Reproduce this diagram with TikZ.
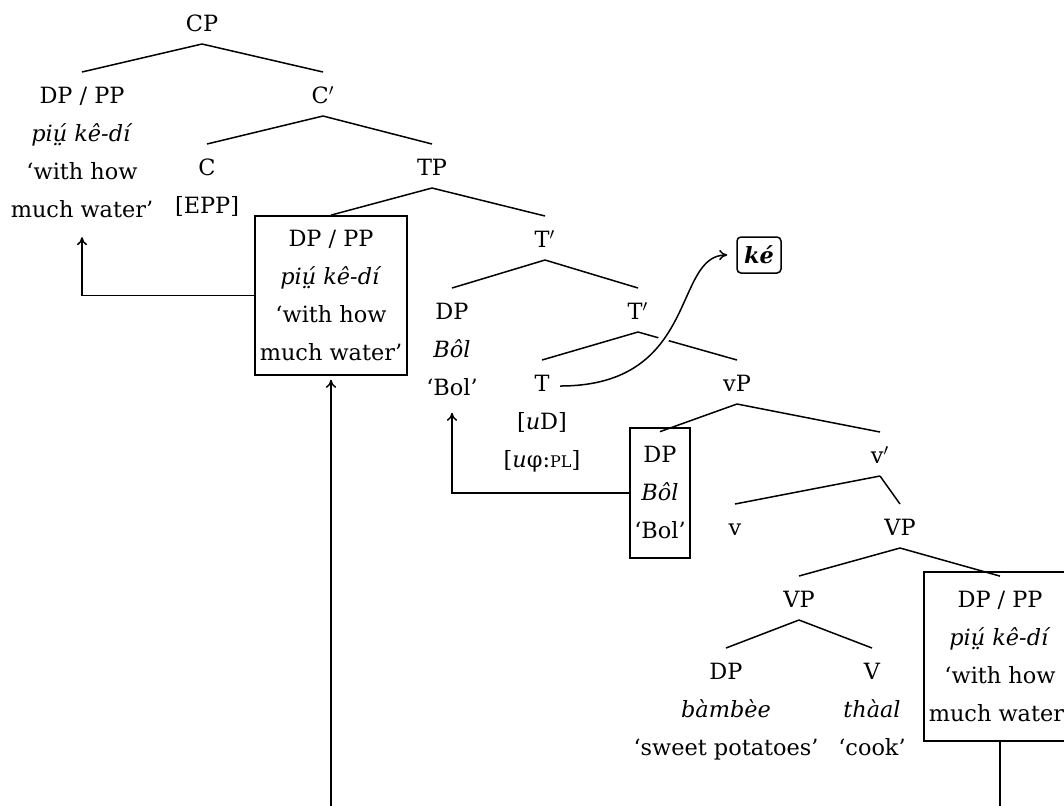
\documentclass[tikz,border=0pt]{standalone}
\usepackage{fontspec}
\setmainfont{DejaVu Serif}
\usetikzlibrary{arrows.meta}
\newcommand\lns[1]{\begin{tabular}[t]{@{}c@{}}#1\end{tabular}}
\newcommand\smpl{{\fontsize{8}{8}\selectfont PL}}
\newcommand\piu{\textit{piṳ́ kê-dí}}
\newcommand\br[2]{\draw ([yshift=-6.5pt]#1.base) -- ([yshift=15.5pt]#2.base);}
\begin{document}
\begin{tikzpicture}[x=0.5pt,y=-0.5pt,line width=0.75pt,
  every node/.style={font=\fontsize{11.2}{19}\selectfont},
  tn/.style={inner sep=0pt,anchor=base},
  bx/.style={draw,inner sep=0pt,anchor=center},
  >={To[length=4pt,width=5pt]}]
\useasboundingbox (0,0) rectangle (1064,805);
% nodes
\node[tn] (cp) at (202,31) {\lns{CP}};
\node[tn] (dp1) at (82,103) {\lns{DP / PP\\ \piu\\ ‘with how\\ much water’}};
\node[tn] (cbar) at (323,103) {\lns{C$'$}};
\node[tn] (c) at (207,175) {\lns{C\\ {[}EPP{]}}};
\node[tn] (tp) at (432,175) {\lns{TP}};
\node[bx,minimum width=76pt,minimum height=79.5pt] (box2) at (331,295.5) {\lns{DP / PP\\ \piu\\ ‘with how\\ much water’}};
\node[tn] (tbar1) at (545,247) {\lns{T$'$}};
\node[tn] (dp2) at (452,319) {\lns{DP\\ \textit{Bôl}\\ ‘Bol’}};
\node[tn] (tbar2) at (638,319) {\lns{T$'$}};
\node[tn] (t) at (542,391) {\lns{T\\ {[}\textit{u}D{]}\\ {[}\textit{u}φ:\smpl{]}}};
\node[tn] (vp) at (737,391) {\lns{vP}};
\node[bx,minimum width=30pt,minimum height=65pt] (box4) at (660,493) {\lns{DP\\ \textit{Bôl}\\ ‘Bol’}};
\node[tn] (vbar) at (880,463) {\lns{v$'$}};
\node[tn] (v) at (735,535) {\lns{v}};
\node[tn] (vp1) at (900,535) {\lns{VP}};
\node[tn] (vp2) at (799,607) {\lns{VP}};
\node[bx,minimum width=76pt,minimum height=84.5pt] (box3) at (1000,656.5) {\lns{DP / PP\\ \piu\\ ‘with how\\ much water’}};
\node[tn] (dp3) at (726,679) {\lns{DP\\ \textit{bàmbèe}\\ ‘sweet potatoes’}};
\node[tn] (vv) at (872,679) {\lns{V\\ \textit{thàal}\\ ‘cook’}};
\node[draw,rounded corners=2pt,inner sep=0pt,minimum width=22pt,minimum height=18pt] (ke) at (759,255) {\textbf{\textit{ké}}};
% branches
\br{cp}{dp1}
\br{cp}{cbar}
\br{cbar}{c}
\br{cbar}{tp}
\br{tp}{box2}
\br{tp}{tbar1}
\br{tbar1}{dp2}
\br{tbar1}{tbar2}
\br{tbar2}{t}
\br{tbar2}{vp}
\br{vp}{box4}
\br{vp}{vbar}
\br{vbar}{v}
\br{vbar}{vp1}
\br{vp1}{vp2}
\br{vp1}{box3}
\br{vp2}{dp3}
\br{vp2}{vv}
% movement arrows
\draw[->] (box2.west) -| ([yshift=-4pt]dp1.south);
\draw[->] (box4.west) -| ([yshift=-2.8pt]dp2.south);
\coordinate (low) at (331,830);
\draw[->,shorten >=2pt] (box3.south) |- (low) -- (box2.south);
% head movement curve
\draw[white,line width=5pt,shorten >=8pt] ([xshift=9pt,yshift=2.5pt]t.base) .. controls +(140,0) and +(-64,0) .. (ke.west);
\draw[->,shorten >=4.5pt] ([xshift=9pt,yshift=2.5pt]t.base) .. controls +(140,0) and +(-64,0) .. (ke.west);
\end{tikzpicture}
\end{document}
